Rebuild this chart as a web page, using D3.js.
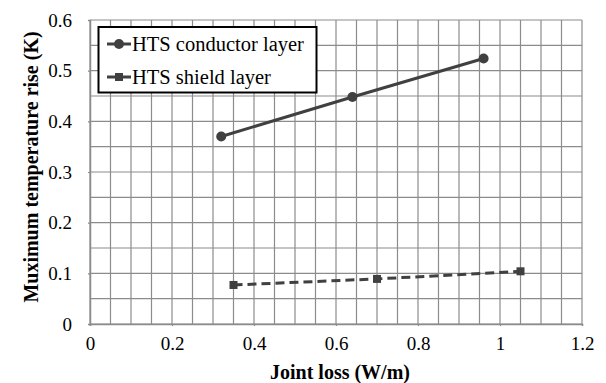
<!DOCTYPE html>
<html><head><meta charset="utf-8">
<script src="https://cdn.jsdelivr.net/npm/d3@7"></script>
<style>body{margin:0;background:#fff}svg{display:block} svg text{font-family:"Liberation Serif","Times New Roman",Tinos,"DejaVu Serif",serif;}</style>
</head><body>
<script>
const conductorX = [0.32, 0.64, 0.96];
const conductorY = [0.370, 0.448, 0.524];
const shieldX = [0.35, 0.70, 1.05];
const shieldY = [0.077, 0.089, 0.104];
const seriesNames = ["HTS conductor layer", "HTS shield layer"];
const xTicks = [0, 0.2, 0.4, 0.6, 0.8, 1, 1.2];
const yTicks = [0, 0.1, 0.2, 0.3, 0.4, 0.5, 0.6];
const xTitle = "Joint loss (W/m)";
const yTitle = "Muximum temperature rise (K)";

const W = 606, H = 383;
const m = {left: 90, right: 24, top: 20, bottom: 59};
const svg = d3.select("body").append("svg").attr("width", W).attr("height", H);
const x = d3.scaleLinear().domain([0, 1.2]).range([m.left, W - m.right]);
const y = d3.scaleLinear().domain([0, 0.6]).range([H - m.bottom, m.top]);
const gridCol = "#8c8c8c", lineCol = "#404040";

const g = svg.append("g");
g.selectAll(".vg").data(d3.range(0, 25).map(i => i * 0.05)).join("line")
  .attr("x1", d => x(d)).attr("x2", d => x(d)).attr("y1", y(0)).attr("y2", y(0.6))
  .attr("stroke", gridCol).attr("stroke-width", 1.2);
g.selectAll(".hg").data(d3.range(0, 13).map(i => i * 0.05)).join("line")
  .attr("y1", d => y(d)).attr("y2", d => y(d)).attr("x1", x(0)).attr("x2", x(1.2))
  .attr("stroke", gridCol).attr("stroke-width", 1.2);

const xAxis = svg.append("g").attr("transform", `translate(0,${y(0)})`)
  .call(d3.axisBottom(x).tickValues(xTicks).tickFormat(d3.format("")).tickSize(2).tickPadding(11));
const yAxis = svg.append("g").attr("transform", `translate(${x(0)},0)`)
  .call(d3.axisLeft(y).tickValues(yTicks).tickFormat(d3.format("")).tickSize(2).tickPadding(16));
[xAxis, yAxis].forEach(a => {
  a.attr("font-family", null);
  a.select(".domain").attr("stroke", gridCol).attr("stroke-width", 1.5);
  a.selectAll(".tick line").attr("stroke", gridCol).attr("stroke-width", 1.2);
  a.selectAll("text").attr("font-size", 19).attr("fill", "#000");
});

svg.append("text").attr("x", 340).attr("y", 379).attr("text-anchor", "middle")
  .attr("font-weight", "bold").attr("font-size", 20).text(xTitle);
svg.append("text").attr("transform", `translate(38,${167}) rotate(-90)`).attr("text-anchor", "middle")
  .attr("font-weight", "bold").attr("font-size", 20).text(yTitle);

const line = d3.line().x(d => x(d[0])).y(d => y(d[1]));
const cData = conductorX.map((v, i) => [v, conductorY[i]]);
const sData = shieldX.map((v, i) => [v, shieldY[i]]);
svg.append("path").datum(cData).attr("d", line).attr("fill", "none")
  .attr("stroke", lineCol).attr("stroke-width", 3);
svg.selectAll(".cm").data(cData).join("circle")
  .attr("cx", d => x(d[0])).attr("cy", d => y(d[1])).attr("r", 5).attr("fill", lineCol);
svg.append("path").datum(sData).attr("d", line).attr("fill", "none")
  .attr("stroke", lineCol).attr("stroke-width", 3).attr("stroke-dasharray", "9,5");
svg.selectAll(".sm").data(sData).join("rect")
  .attr("x", d => x(d[0]) - 4).attr("y", d => y(d[1]) - 4).attr("width", 8).attr("height", 8).attr("fill", lineCol);

const lg = svg.append("g");
lg.append("rect").attr("x", 98.5).attr("y", 27).attr("width", 218).attr("height", 65.5)
  .attr("fill", "#fff").attr("stroke", "#000").attr("stroke-width", 2);
const rows = [44, 77];
seriesNames.forEach((n, i) => {
  const ry = rows[i];
  lg.append("line").attr("x1", 107).attr("x2", 131).attr("y1", ry).attr("y2", ry)
    .attr("stroke", lineCol).attr("stroke-width", 3);
  if (i === 0) lg.append("circle").attr("cx", 119).attr("cy", ry).attr("r", 5).attr("fill", lineCol);
  else lg.append("rect").attr("x", 115).attr("y", ry - 4).attr("width", 8).attr("height", 8).attr("fill", lineCol);
  lg.append("text").attr("x", 132).attr("y", ry).attr("dy", "0.35em")
    .attr("font-size", 20.5).attr("fill", "#000").text(n);
});
</script>
</body></html>
